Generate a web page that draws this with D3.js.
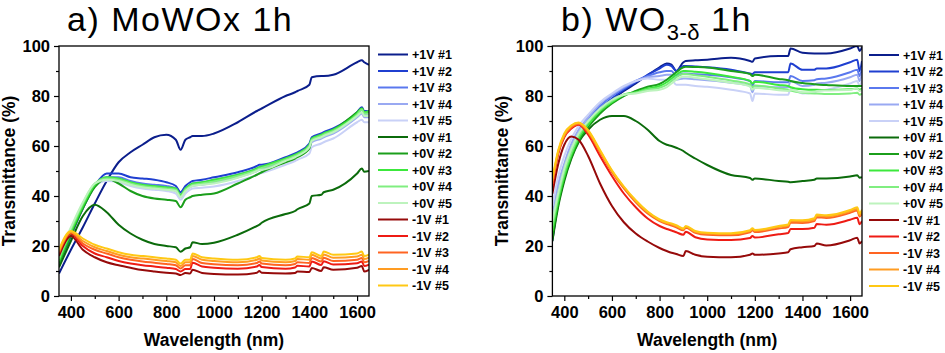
<!DOCTYPE html>
<html><head><meta charset="utf-8">
<script src="https://cdn.jsdelivr.net/npm/d3@7"></script>
<style>
body{margin:0;background:#fff;}
svg{display:block;}
</style></head>
<body>
<svg id="chart" width="945" height="353"></svg>
<script>
// ---------- DATA ----------
const labels = ["+1V #1","+1V #2","+1V #3","+1V #4","+1V #5","+0V #1","+0V #2","+0V #3","+0V #4","+0V #5","-1V #1","-1V #2","-1V #3","-1V #4","-1V #5"];
const colors = ["#0b1e8c","#1f3fd0","#5a78ee","#99a9f2","#c9d1f7","#0b6b0b","#1b9e1b","#3ce83c","#80ee80","#bdf3bd","#960a0a","#ee1b14","#ff6422","#ff9c22","#ffc814"];
const xTicks = [400,600,800,1000,1200,1400,1600];
const xMinorTicks = [500,700,900,1100,1300,1500];
const yTicks = [0,20,40,60,80,100];
const yMinorTicks = [10,30,50,70,90];

// Panel a) MoWOx 1h
const wlA = [350,400,450,500,550,600,650,700,750,800,840,860,880,900,910,950,1000,1100,1180,1190,1200,1300,1340,1350,1400,1410,1450,1460,1500,1600,1620,1630,1650];
const aPlus1V = [
 [9,18.5,27.5,37,46,53.5,57.5,60.5,63.5,64.5,62.5,58.5,62.5,63.5,64,64,65,69.5,74,74.5,75,80,81.5,82,84.5,87.5,88,88,88.5,93.5,94.3,93.5,92.5],
 [12,24,35,44,49,49,47.5,47,46.5,45.5,44,41.5,44,45.5,46,46.5,47.5,49.5,52,52.5,52.5,55.5,57,57.5,61,63.5,65,65.5,67,73.5,75.5,74,74],
 [13,25,35.5,44,47.5,47.5,46,45,44.5,44,43,40.5,43,44.5,45,45.5,46.5,48.5,51,51.5,51.5,54.5,56,56.5,60,62.5,64,64.5,66,72.5,74.5,73,73],
 [13.5,25.5,36,44.5,47,46.5,45,44,43.5,43,42,39.5,42,43.5,44,44.5,45.3,47.5,50,50.5,50.7,54,55.5,56,59,61.5,63,63.5,65,71.5,73,71.5,71.5],
 [14,26,36,44,46,45.5,44,43,42.5,42,41,38.5,41,42.5,43,43.3,43.8,46,48.5,49,49.2,52.5,54,54.5,57,59.5,61,61.5,63,69.5,70.5,69.5,69.5]
];
const aZeroV = [
 [11.5,22,32,36.5,33.5,28.5,25,22.5,20.8,20,19.5,17.7,19,19.5,21.5,20.8,21.3,24.5,28,28.5,29.3,32.8,34,34.7,37,40,40.5,41.5,42.5,49,51,49.7,50],
 [13,24.5,35,43.5,47,45,42,40,39,38.5,38,35.5,38.5,39.5,40,40.5,41,45,48.5,49,49.5,53.5,55,55.5,59,62.5,64,64.5,66.5,73.5,75,73.5,73.5],
 [14,25.5,36,44.5,47.5,47,45.5,44.5,44,43.5,43,40.5,43,44.5,45,45.5,46.5,48.5,51,51.5,51.8,55,56.5,57,60.5,63,64.5,65,66.5,73,75,73.5,74],
 [15,26.5,37,45,47,46.5,45,44,43.5,43,42.5,40,42.5,44,44.5,45,45.8,48,50.5,51,51.2,54.5,56,56.5,60,62.5,64,64.5,66,72.5,74.5,73,73],
 [16.5,27.5,37.5,45,46.5,46,44.5,43.5,43,42.5,42,39.5,42,43.5,44,44.5,45,47.3,50,50.5,50.5,54,55.5,56,59.5,62,63.5,64,65.5,72,73.5,72,72]
];
const aMinus1V = [
 [16,24,18.5,15.5,13.5,12.3,11.3,10.4,9.8,9.3,9,8.4,9.2,9,10.5,9.2,8.8,8.6,9.3,10,9.3,9,9.2,9.8,9.6,11.2,10,11.5,10.5,11.3,12,9.8,10.5],
 [17,25,20,17,15.5,14,13,12.3,11.8,11.3,10.8,9.8,10.8,10.8,13.3,11.8,11.3,10.9,11.8,12.4,11.6,10.9,11.4,12.1,11.8,13.8,12.4,13.9,12.6,13.1,13.8,12,12.5],
 [17.5,25.5,21,18.5,17,15.5,14.5,13.8,13.3,12.8,12.3,11,12.3,12.3,14.8,13.2,12.7,12.3,13.2,13.8,13,12.3,12.8,13.5,13.2,15.2,13.8,15.3,14,14.5,15.2,13.5,14],
 [18,25.5,22,19.5,18,16.5,15.5,15,14.5,14,13.5,12,13.5,13.5,16,14.5,14,13.5,14.5,15,14.2,13.5,14,14.8,14.5,16.5,15,16.6,15.3,15.8,16.5,14.8,15.3],
 [18.5,26,23,20.5,19,17.5,16.5,16,15.5,15,14.5,13,14.5,14.5,17,15.5,15,14.5,15.5,16,15.2,14.5,15,15.8,15.5,17.5,16,17.8,16.5,17,17.8,16,16.5]
];

// Panel b) WO3-δ 1h
const wlB = [350,375,400,430,460,500,550,600,650,700,750,800,830,850,870,900,910,950,1000,1100,1180,1190,1200,1300,1340,1350,1400,1450,1460,1500,1600,1630,1640,1650];
const bPlus1V = [
 [22,38,48,56,63,69,74.5,78.5,82,85,88.4,91.5,93,92.5,90,93.5,94,94.3,94.5,95.3,94,93.7,95,96,96,99,97.3,97,97,97,99,100,98,99.5],
 [23,39,49,57,63.5,69.5,75,79,82.5,85.5,88.5,91,92.5,92,90,92,92,91.8,91.5,90.5,89,88.8,89.5,89.5,89.5,93,90.5,90.5,91,91,93.5,94.5,90,94],
 [28,42,51,59,65,70.5,76,80,83,86,88,89.5,90,90,88,89,89,88.7,88.5,87.5,86,84,86,85.5,85.5,88,86,86.3,86.7,87,89.5,90.5,88,91],
 [32,45,53,61,66.5,71.5,77,80.5,83.5,86,87.5,88,88.5,88.5,86.5,87,87,86.7,86.3,85.3,84,81.5,84,83.5,83.5,86,84,84.5,85,85.3,87.5,88.5,86,89],
 [36,48,56,63,68,72.5,77.5,81,84,86,87,86.5,86.5,86.5,84.5,84.5,84.5,84,83.7,82.5,81,78,81,80.5,80.5,83,81,81.5,82,82.5,85,86,84,86.5]
];
const bZeroV = [
 [22,36,46,55,61.5,66.5,70.5,72,72,70,66.5,62,60.5,60,59.3,58,57.3,55,52.4,48.4,47.2,46.5,47,46,45.7,45.5,46,46.5,47,47,47.8,48.3,47.3,47.5],
 [24,37,47,55.5,62,67.5,73,77,80,82,83.7,84.8,86.5,88,89.5,91.5,91.7,91.6,91.4,90,88.8,88,88.5,86.8,86.3,86,85.2,84.7,84.6,84.4,84,84,84,84],
 [26,38.5,48,56.5,63,68.5,74,77.5,80.5,81.5,83,84,85.5,87,88.5,90,90,89.7,89.2,87.7,86,85,85.7,84.4,84,83.5,82.7,82.5,82.5,82.4,82.7,83,82.5,83],
 [28,40,49.5,57.5,64,69.5,74.5,78,80.5,81.3,82.5,83.3,84.5,86,87.5,88.8,88.8,88.3,87.7,86.2,84.6,83.5,84.2,83,82.5,82.2,81.3,81,81,80.8,81,81.3,80.5,81],
 [30,41.5,51,59,65,70,75,78.5,80.5,81,82,82.5,83.5,85,86.5,87.8,87.8,87.3,86.7,85.3,83.8,82.5,83.3,82.3,82,82.5,81.5,81.7,82,82.2,82.5,83,82,82.5]
];
const bMinus1V = [
 [41,53,60.5,63.8,62.5,56,45,36,29.5,25,21.8,19.2,18,17.3,16.8,16,18,16.5,15.7,15.5,16.5,17,16.5,17,17.5,18.7,19.5,20,21,20.2,22.3,23.3,21,22],
 [44,57,63.5,67,68.5,64.5,56,48,41,35.5,31,28,26.8,26.2,25.5,24.5,25.7,23.5,22.6,22.4,23.2,24,23.4,24.7,25.2,26.8,26.8,27.3,28.8,28.5,30.5,31.3,28.7,30],
 [45,57.5,64,67.5,68.8,65.5,57.5,49.5,43,37.5,33,30,28.8,28.2,27.5,26.3,27.3,25.3,24.5,24.3,25.5,26.3,25.6,27,27.6,29.3,29.2,30,31.5,31.2,33.3,34.2,31.8,33],
 [46,58,64.5,68,69.2,66,58,50,43.5,38,33.5,30.4,29.2,28.7,28,26.7,27.7,25.7,25,24.8,26,26.8,26.1,27.6,28.2,29.9,29.8,30.6,32.1,31.8,33.9,34.8,32.4,33.8],
 [47,58.5,65,68.3,69.4,66.3,58.4,50.3,43.8,38.3,33.8,30.6,29.5,29,28.3,27,28,26,25.3,25.1,26.3,27.1,26.4,28,28.6,30.4,30.3,31.1,32.6,32.3,34.4,35.5,33,34.5]
];

// ---------- DRAW ----------
const svg = d3.select("#chart");
const FONT = "'Liberation Sans', Arial, sans-serif";

function drawPanel(opt) {
  const {x0, x1, y0, y1, wl, groups, id} = opt;
  const g = svg.append("g");
  const x = d3.scaleLinear().domain([350, 1650]).range([x0, x1]);
  const y = d3.scaleLinear().domain([0, 100]).range([y1, y0]);

  g.append("clipPath").attr("id", "clip" + id)
    .append("rect").attr("x", x0).attr("y", y0).attr("width", x1 - x0).attr("height", y1 - y0);

  const series = [].concat(...groups);
  const line = d3.line().x((d, i) => x(wl[i])).y(d => y(d)).curve(d3.curveMonotoneX);
  const lines = g.append("g").attr("clip-path", `url(#clip${id})`);
  series.forEach((s, k) => {
    lines.append("path").attr("d", line(s)).attr("fill", "none")
      .attr("stroke", colors[k]).attr("stroke-width", 2).attr("stroke-linejoin", "round");
  });

  // frame
  g.append("rect").attr("x", x0).attr("y", y0).attr("width", x1 - x0).attr("height", y1 - y0)
    .attr("fill", "none").attr("stroke", "#000").attr("stroke-width", 1.3);

  // axes
  const xa = g.append("g").attr("transform", `translate(0,${y1})`)
    .call(d3.axisBottom(x).tickValues(xTicks).tickSize(5).tickPadding(5).tickFormat(d3.format("d")));
  const xm = g.append("g").attr("transform", `translate(0,${y1})`)
    .call(d3.axisBottom(x).tickValues(xMinorTicks).tickSize(3).tickFormat(""));
  const ya = g.append("g").attr("transform", `translate(${x0},0)`)
    .call(d3.axisLeft(y).tickValues(yTicks).tickSize(5).tickPadding(4));
  const ym = g.append("g").attr("transform", `translate(${x0},0)`)
    .call(d3.axisLeft(y).tickValues(yMinorTicks).tickSize(3).tickFormat(""));
  [xa, xm, ya, ym].forEach(a => {
    a.select(".domain").remove();
    a.selectAll("line").attr("stroke", "#000").attr("stroke-width", 1.2);
    a.selectAll("text").attr("font-family", FONT).attr("font-weight", "bold")
      .attr("font-size", "16.5px").attr("fill", "#000");
  });
  xa.selectAll("text").attr("dy", "0.71em");

  // axis titles
  g.append("text").attr("x", (x0 + x1) / 2).attr("y", 345.5).attr("text-anchor", "middle")
    .attr("font-family", FONT).attr("font-weight", "bold").attr("font-size", "17.5px")
    .text("Wavelength (nm)");
  g.append("text").attr("transform", `translate(${x0 - 44},${(y0 + y1) / 2}) rotate(-90)`)
    .attr("text-anchor", "middle")
    .attr("font-family", FONT).attr("font-weight", "bold").attr("font-size", "17.5px")
    .text("Transmittance (%)");

  // legend
  const lg = g.append("g");
  labels.forEach((lab, k) => {
    const ly = opt.legY + k * 16.5;
    lg.append("line").attr("x1", opt.legX).attr("x2", opt.legX + 30).attr("y1", ly).attr("y2", ly)
      .attr("stroke", colors[k]).attr("stroke-width", 2);
    lg.append("text").attr("x", opt.legX + 34).attr("y", ly + 4.5)
      .attr("font-family", FONT).attr("font-weight", "bold").attr("font-size", "12.5px")
      .text(lab);
  });
  return g;
}

drawPanel({id: "a", x0: 59, x1: 369, y0: 46, y1: 296, wl: wlA,
  groups: [aPlus1V, aZeroV, aMinus1V], legX: 378, legY: 54.5});
drawPanel({id: "b", x0: 552.4, x1: 862, y0: 46, y1: 296, wl: wlB,
  groups: [bPlus1V, bZeroV, bMinus1V], legX: 869, legY: 55});

// panel titles
const TFONT = "'Liberation Sans', Arial, sans-serif";
svg.append("text").attr("x", 67).attr("y", 31).attr("font-family", TFONT)
  .attr("font-size", "34px").attr("letter-spacing", "1.5px").attr("fill", "#000").text("a) MoWOx 1h");
const tb = svg.append("text").attr("x", 561).attr("y", 31).attr("font-family", TFONT)
  .attr("font-size", "34px").attr("letter-spacing", "1.5px").attr("fill", "#000");
tb.append("tspan").text("b) WO");
tb.append("tspan").attr("font-size", "22px").attr("letter-spacing", "0.5px").attr("dy", 9).text("3-δ");
tb.append("tspan").attr("dy", -9).text(" 1h");
</script>
</body></html>
